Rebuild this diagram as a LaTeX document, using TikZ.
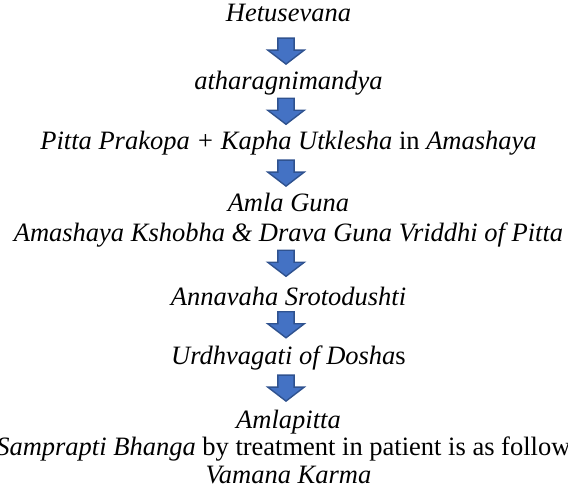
\documentclass[tikz,border=0pt]{standalone}
\usepackage{fontspec}
\setmainfont{Liberation Serif}
\usepackage{tikz}
\usetikzlibrary{shapes.arrows}
\definecolor{arrfill}{HTML}{4472C4}
\definecolor{arrline}{HTML}{2F528F}

\begin{document}
\begin{tikzpicture}[x=1pt,y=1pt,
	txt/.style={inner sep=0pt,text height=18pt,text depth=6pt,font=\fontsize{26.5pt}{28pt}\selectfont},
	downarr/.style={single arrow,draw=arrline,fill=arrfill,line width=1.4pt,shape border rotate=270,minimum height=26pt,minimum width=36.5pt,single arrow head extend=10pt,single arrow tip angle=105,inner sep=7.2pt,xshift=-2.5pt}]
		\path[use as bounding box,clip] (0,0) rectangle (568,-493);
		
		%text of each step
		\node (het) [txt] at (288.5,-15.7) {\textit{Hetusevana}};
		\node (ath) [txt,below of=het,node distance=67.6pt] {\textit{atharagnimandya}};
		\node (pit) [txt,below of=ath,node distance=59.7pt] {\textit{Pitta Prakopa + Kapha Utklesha} in \textit{Amashaya}};
		\node (amla) [txt,below of=pit,node distance=62.7pt] {\textit{Amla Guna}};
		\node (ams) [txt,below of=amla,node distance=29.3pt] {\textit{Amashaya Kshobha \& Drava Guna Vriddhi of Pitta}};
		\node (ann) [txt,below of=ams,node distance=64pt] {\textit{Annavaha Srotodushti}};
		\node (urd) [txt,below of=ann,node distance=59pt] {\textit{Urdhvagati of Dosha}s};
		\node (aml) [txt,below of=urd,node distance=64.3pt] {\textit{Amlapitta}};
		\node (sam) [txt,below of=aml,node distance=26.7pt] {\textit{Samprapti Bhanga} by treatment in patient is as follows};
		\node (vam) [txt,below of=sam,node distance=28.3pt] {\textit{Vamana Karma}};
		
		%block arrows between the steps
		\node (a1) [downarr,below of=het,node distance=32.3pt] {};
		\node (a2) [downarr,below of=ath,node distance=24.9pt] {};
		\node (a3) [downarr,below of=pit,node distance=27pt] {};
		\node (a4) [downarr,below of=ams,node distance=25.2pt] {};
		\node (a5) [downarr,below of=ann,node distance=22.7pt] {};
		\node (a6) [downarr,below of=urd,node distance=27pt] {};
	\end{tikzpicture}
\end{document}
